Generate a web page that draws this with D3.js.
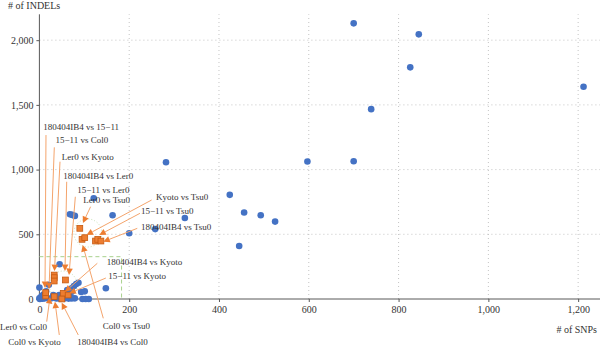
<!DOCTYPE html>
<html>
<head>
<meta charset="utf-8">
<script src="https://cdn.jsdelivr.net/npm/d3@7/dist/d3.min.js"></script>
<style>
  html, body { margin: 0; padding: 0; background: #fff; }
  svg { display: block; font-family: "Liberation Serif", "DejaVu Serif", serif; }
</style>
</head>
<body>
<svg id="chart" width="600" height="348"></svg>
<script>
// Variant counts per pairwise comparison: SNPs (x) versus INDELs (y)

// All other comparisons (blue dots)
const otherSNPs   = [700, 845, 826, 1212, 739, 282, 597, 700, 424, 456, 493, 525, 324, 258, 445, 200, 163, 121,
                     68, 73, 79, 45, 148, 0, 21, 0, 1, 7, 12, 20, 27, 38, 46, 57, 65, 72, 79, 96, 103, 110,
                     5, 31, 44, 61, 72, 70, 72, 77, 82, 87, 93, 101, 62, 15, 3, 9, 52];
const otherINDELs = [2130, 2045, 1790, 1640, 1467, 1057, 1062, 1065, 805, 668, 647, 598, 626, 540, 410, 508, 647, 778,
                     655, 650, 642, 268, 83, 88, 110, 5, 0, 2, 5, 3, 6, 4, 2, 5, 3, 4, 5, 0, 0, 0,
                     23, 31, 31, 49, 56, 13, 83, 100, 116, 126, 54, 59, 70, 60, 12, 35, 18];

// Comparisons among the six highlighted lines (orange squares)
const pairSNPs   = [14, 14, 33, 33, 33, 58, 33, 53, 64, 50, 90, 95, 101, 125, 130, 137];
const pairINDELs = [23, 49, 185, 165, 139, 147, 18, 44, 31, 0, 546, 461, 474, 448, 461, 448];

// Callouts: text, text anchor, line start, arrow tip (all in data units)
const calloutText = [
  "180404IB4 vs 15\u221211", "15\u221211 vs Col0", "Ler0 vs Kyoto", "180404IB4 vs Ler0",
  "15\u221211 vs Ler0", "Ler0 vs Tsu0", "Kyoto vs Tsu0", "15\u221211 vs Tsu0",
  "180404IB4 vs Tsu0", "180404IB4 vs Kyoto", "15\u221211 vs Kyoto", "Col0 vs Tsu0",
  "Ler0 vs Col0", "Col0 vs Kyoto", "180404IB4 vs Col0"
];
const calloutAt = [
  [8.7, 1306], [35.9, 1202], [49.7, 1074], [53.2, 930],
  [84.4, 817], [97.8, 740], [259.7, 765], [226.3, 655],
  [226.3, 533], [150, 263], [153.5, 155], [141, -232],
  [-87.7, -240], [-69.3, -355], [84.4, -355]
];
const calloutFrom = [
  [14.7, 1267], [33.2, 1172], [45.9, 1061], [60.8, 906],
  [80, 790], [114, 713], [250, 765], [224, 662],
  [218, 546], [129, 276], [148, 162], [142.3, -149],
  [16.3, -175], [44.3, -278], [86.6, -278]
];
const calloutTo = [
  [12.5, 85], [21.4, 77], [33.6, 216], [57, 216],
  [66, 185], [97, 587], [105, 495], [133.4, 495],
  [142.3, 443], [57, 56], [66.6, 44], [96.4, 417],
  [23.6, 15], [34.7, -21], [49.7, -29]
];

// Zoomed region outline and cluster highlights
const zoomBox = { x0: 0, x1: 183, y0: 0, y1: 327 };
const clusterCenters = [[108, 510], [53, 108]];

const xTicks = [200, 400, 600, 800, 1000, 1200];
const yTicks = [500, 1000, 1500, 2000];

const svg = d3.select("#chart");
const x = d3.scaleLinear().domain([0, 1250]).range([39.4, 600.6]);
const y = d3.scaleLinear().domain([0, 2200]).range([299, 14.3]);
const fmt = d3.format(",");

const textCol = "#333333";
const axisCol = "#595959";

// Gridlines
const grid = svg.append("g");
grid.selectAll("line.gx").data(xTicks).join("line")
  .attr("x1", d => x(d)).attr("x2", d => x(d))
  .attr("y1", y(0)).attr("y2", y(2200))
  .attr("stroke", "#b5b5b5").attr("stroke-width", 0.8).attr("stroke-dasharray", "1,3");
grid.selectAll("line.gy").data(yTicks).join("line")
  .attr("x1", x(0)).attr("x2", 600)
  .attr("y1", d => y(d)).attr("y2", d => y(d))
  .attr("stroke", "#b5b5b5").attr("stroke-width", 0.8).attr("stroke-dasharray", "1,3");

// Axes
const xAxis = d3.axisBottom(x).tickValues([0].concat(xTicks)).tickFormat(fmt).tickSize(3).tickPadding(4);
const yAxis = d3.axisLeft(y).tickValues([0].concat(yTicks)).tickFormat(fmt).tickSize(3).tickPadding(3);

const gx = svg.append("g").attr("transform", `translate(0,${y(0)})`).call(xAxis);
const gy = svg.append("g").attr("transform", `translate(${x(0)},0)`).call(yAxis);
[gx, gy].forEach(g => {
  g.select(".domain").attr("stroke", axisCol).attr("stroke-width", 1);
  g.selectAll(".tick line").attr("stroke", axisCol);
  g.selectAll(".tick text").attr("fill", textCol)
    .style("font-family", "Liberation Serif, serif").style("font-size", "10px");
});
gx.select(".domain").attr("d", `M${x(0)},0H600`);
gy.select(".domain").attr("d", `M0,${y(0)}V${y(2200)}`);

// Axis titles
svg.append("text").attr("x", 8).attr("y", 9).attr("fill", textCol)
  .style("font-size", "10px").text("# of INDELs");
svg.append("text").attr("x", 597).attr("y", 332.5).attr("text-anchor", "end").attr("fill", textCol)
  .style("font-size", "10px").text("# of SNPs");

// Zoomed region outline
svg.append("path")
  .attr("d", `M${x(zoomBox.x0)},${y(zoomBox.y1)}H${x(zoomBox.x1)}V${y(zoomBox.y0)}`)
  .attr("fill", "none").attr("stroke", "#a9d18e").attr("stroke-width", 1).attr("stroke-dasharray", "4,3");

// Cluster highlights
svg.selectAll("circle.cluster").data(clusterCenters).join("circle")
  .attr("cx", d => x(d[0])).attr("cy", d => y(d[1])).attr("r", 14)
  .attr("fill", "none").attr("stroke", "#c5e0b4").attr("stroke-width", 1).attr("stroke-dasharray", "1,2");

// Blue dots
const others = otherSNPs.map((s, i) => [s, otherINDELs[i]]);
svg.append("g").selectAll("circle").data(others).join("circle")
  .attr("cx", d => x(d[0])).attr("cy", d => y(d[1])).attr("r", 3.3)
  .attr("fill", "#4472c4");

// Orange squares
const pairs = pairSNPs.map((s, i) => [s, pairINDELs[i]]);
const sq = 5.8;
svg.append("g").selectAll("rect").data(pairs).join("rect")
  .attr("x", d => x(d[0]) - sq / 2).attr("y", d => y(d[1]) - sq / 2)
  .attr("width", sq).attr("height", sq)
  .attr("fill", "#ed7d31").attr("stroke", "#c55a11").attr("stroke-width", 0.8);

// Callouts with arrowheads
const callouts = calloutText.map((t, i) => ({
  text: t, at: calloutAt[i], from: calloutFrom[i], to: calloutTo[i]
}));
const cg = svg.append("g");
const headLen = 6.5, headHalf = 3.3;
callouts.forEach(c => {
  const x0 = x(c.from[0]), y0 = y(c.from[1]);
  const x1 = x(c.to[0]), y1 = y(c.to[1]);
  const dx = x1 - x0, dy = y1 - y0, len = Math.hypot(dx, dy);
  const ux = dx / len, uy = dy / len;
  const bx = x1 - ux * headLen, by = y1 - uy * headLen;
  cg.append("line")
    .attr("x1", x0).attr("y1", y0).attr("x2", bx).attr("y2", by)
    .attr("stroke", "#f4a46c").attr("stroke-width", 1);
  cg.append("path")
    .attr("d", `M${x1},${y1}L${bx - uy * headHalf},${by + ux * headHalf}L${bx + uy * headHalf},${by - ux * headHalf}Z`)
    .attr("fill", "#ed7d31");
  cg.append("text")
    .attr("x", x(c.at[0])).attr("y", y(c.at[1]))
    .attr("fill", textCol).style("font-size", "9px")
    .text(c.text);
});
</script>
</body>
</html>
